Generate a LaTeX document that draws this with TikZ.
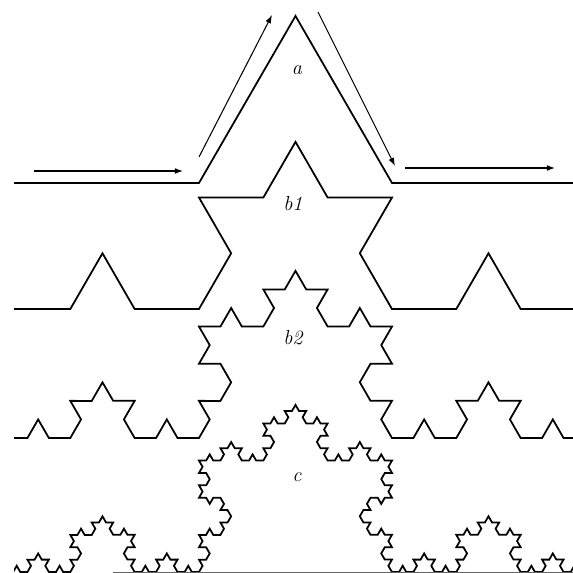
\documentclass[tikz,border=0pt]{standalone}
\usepackage{tikz}
\usetikzlibrary{arrows.meta,calc,decorations.fractals}

\begin{document}
\begin{tikzpicture}[
    x=0.03cm, y=-0.03cm,
    curve/.style={line width=1.5pt, decoration=Koch snowflake},
    arrow/.style={line width=0.9pt, -{Latex[length=7pt,width=5pt]}},
    steplabel/.style={font=\LARGE\itshape, inner sep=0pt}
]
\useasboundingbox (0,0) rectangle (573,573);

% Generator corners
\coordinate (aStart) at (6,183);
\coordinate (aL) at (199,183);
\coordinate (aT) at (295.5,16);
\coordinate (aR) at (392,183);
\coordinate (aEnd) at (585,183);

% Curves, cut at the picture edges
\begin{scope}
\clip (14,-5) rectangle (573,576);
% a: generator
\draw [curve] (aStart) -- (aL) -- (aT) -- (aR) -- (aEnd);
% b1
\draw [curve] decorate {decorate {(6,309) -- (585,309)}};
% b2
\draw [curve] decorate {decorate {decorate {(6,438) -- (585,438)}}};
% c
\draw [curve] decorate {decorate {decorate {decorate {(6,572) -- (585,572)}}}};
\end{scope}

% Base line under c
\draw [black!60, line width=0.7pt] (113,572) -- (573,572);

% Arrows along the generator
\coordinate (in1) at (34,171);
\coordinate (in2) at (183,171);
\coordinate (up1) at (199,157);
\coordinate (up2) at (272,15);
\coordinate (dn1) at (318,12);
\coordinate (dn2) at (395,166);
\coordinate (out1) at (405,168);
\coordinate (out2) at (555,168);
\draw [arrow] (in1) -- (in2);
\draw [arrow] (up1) -- (up2);
\draw [arrow] (dn1) -- (dn2);
\draw [arrow] (out1) -- (out2);

% Labels
\node [steplabel] (la) at (297,70) {a};
\node [steplabel] (lb1) at (293,204) {b1};
\node [steplabel] (lb2) at (293,338) {b2};
\node [steplabel] (lc) at (297,477) {c};

\end{tikzpicture}
\end{document}
